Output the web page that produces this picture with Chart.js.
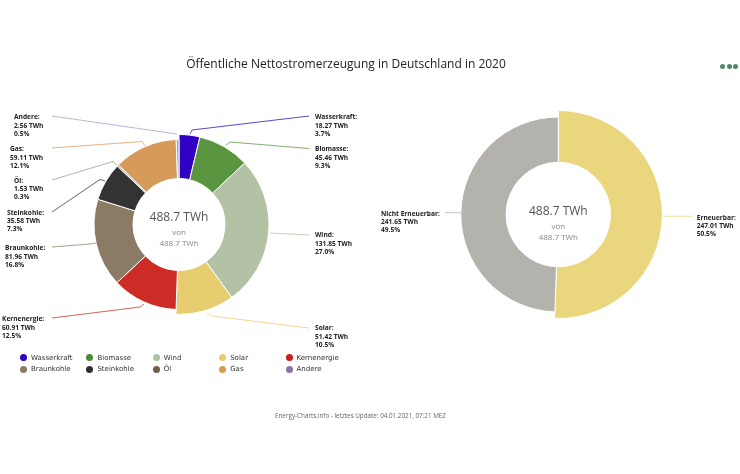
<!DOCTYPE html>
<html>
<head>
<meta charset="utf-8">
<script src="https://cdn.jsdelivr.net/npm/chart.js@4"></script>
<style>
  html, body { margin: 0; padding: 0; background: #fff; }
  #page { position: relative; width: 740px; height: 474px; overflow: hidden; }
  canvas { position: absolute; left: 0; top: 0; }
  #title { position: absolute; left: 0; width: 692px; top: 55px; text-align: center; font: 12px "Open Sans", sans-serif; color: #222; }
  #footer { position: absolute; left: 275px; top: 411px; font: 6.3px "Open Sans", sans-serif; color: #666; white-space: nowrap; }
  #menu { position: absolute; left: 720px; top: 64px; }
  #menu i { float: left; width: 5px; height: 5px; margin-right: 1.6px; border-radius: 50%; background: #4f8a6b; }
  #legend { position: absolute; left: 20px; top: 352px; display: grid; grid-template-columns: repeat(5, 66.4px); grid-auto-rows: 11.4px; font: 7px "DejaVu Sans", sans-serif; color: #333; }
  #legend div { display: flex; align-items: center; white-space: nowrap; }
  #legend b { width: 7px; height: 7px; border-radius: 50%; margin-right: 4px; }
</style>
</head>
<body>
<div id="page">
  <canvas id="mixChart" width="740" height="474"></canvas>
  <canvas id="shareChart" width="740" height="474"></canvas>
  <div id="title">Öffentliche Nettostromerzeugung in Deutschland in 2020</div>
  <div id="menu"><i></i><i></i><i></i></div>
  <div id="legend"></div>
  <div id="footer">Energy-Charts.info - letztes Update: 04.01.2021, 07:21 MEZ</div>
</div>
<script>
const sources = ['Wasserkraft', 'Biomasse', 'Wind', 'Solar', 'Kernenergie', 'Braunkohle', 'Steinkohle', 'Öl', 'Gas', 'Andere'];
const sourceTwh = [18.27, 45.46, 131.85, 51.42, 60.91, 81.96, 35.58, 1.53, 59.11, 2.56];
const sourcePct = ['3.7', '9.3', '27.0', '10.5', '12.5', '16.8', '7.3', '0.3', '12.1', '0.5'];
const sourceColors = ['#3000c4', '#5a963f', '#b3c2a5', '#e8cc70', '#cc2b26', '#8b7b64', '#333333', '#a09684', '#d69a5a', '#a99bc5'];
const legendColors = ['#2c00c4', '#4e8a34', '#adc2a2', '#e8cc70', '#c81e1e', '#8b7b64', '#2f2f2f', '#6f5f48', '#d9984f', '#8a70a8'];

const shareNames = ['Erneuerbar', 'Nicht Erneuerbar'];
const shareTwh = [247.01, 241.65];
const sharePct = ['50.5', '49.5'];
const shareColors = ['#ead67c', '#b3b2ac'];

const totalLabel = '488.7 TWh';

// leader lines and label spots, in page pixels
const sourceLines = [
  [[190, 134], [192, 130], [309, 116]],
  [[226, 145], [230, 142], [309, 148.5]],
  [[270, 233], [309, 235]],
  [[207, 313], [212, 316], [309, 328]],
  [[144, 304], [140, 307], [52, 318]],
  [[96, 243], [90, 244], [52, 247]],
  [[105, 181], [100, 179.5], [52, 212]],
  [[117, 165], [113, 161.5], [52, 180]],
  [[145, 146], [142, 141.5], [52, 148]],
  [[177, 134], [52, 116]]
];
const sourceSpots = [[315, 117.5], [315, 149.5], [315, 235.5], [315, 328.5], [2, 319.5], [5, 248.5], [7, 213], [14, 181], [10, 149.5], [14, 117.5]];
const shareLines = [
  [[663, 216.3], [691.7, 216.3]],
  [[462, 212.7], [445, 212.7]]
];
const shareSpots = [[696.7, 218], [381, 214]];

// slices stick out a little on the renewable side
const growRing = {
  id: 'growRing',
  afterDatasetsUpdate(chart, args, opts) {
    chart.getDatasetMeta(0).data.forEach((arc, i) => {
      arc.outerRadius += opts.extra[i];
    });
  }
};

const callouts = {
  id: 'callouts',
  afterDraw(chart, args, opts) {
    const c = chart.ctx;
    c.save();
    opts.lines.forEach((pts, i) => {
      c.beginPath();
      pts.forEach((p, k) => k ? c.lineTo(p[0], p[1]) : c.moveTo(p[0], p[1]));
      c.strokeStyle = opts.lineColors[i];
      c.globalAlpha = 0.75;
      c.lineWidth = 1;
      c.stroke();
    });
    c.globalAlpha = 1;
    c.fillStyle = '#222';
    c.font = 'bold 6.6px "Open Sans"';
    c.textBaseline = 'middle';
    opts.names.forEach((name, i) => {
      const [x, y] = opts.spots[i];
      c.fillText(name + ':', x, y);
      c.fillText(opts.twh[i].toFixed(2) + ' TWh', x, y + 8.2);
      c.fillText(opts.pct[i] + '%', x, y + 16.4);
    });
    // text in the hole
    const [cx, cy] = opts.center;
    c.textAlign = 'center';
    c.fillStyle = '#555';
    c.font = '12px "Open Sans"';
    c.fillText(totalLabel, cx, cy - 7);
    c.fillStyle = '#888';
    c.font = '8px "Open Sans"';
    c.fillText('von', cx, cy + 8);
    c.fillText(totalLabel, cx, cy + 19.5);
    c.restore();
  }
};

function makeDonut(id, names, values, colors, radius, cutout, padding, extra, co) {
  return new Chart(document.getElementById(id), {
    type: 'doughnut',
    data: {
      labels: names,
      datasets: [{ data: values, backgroundColor: colors, borderColor: '#fff', borderWidth: 1 }]
    },
    options: {
      responsive: false,
      animation: false,
      radius: radius,
      cutout: cutout,
      layout: { padding: padding },
      plugins: {
        legend: { display: false },
        tooltip: { enabled: false },
        growRing: { extra: extra },
        callouts: co
      }
    },
    plugins: [growRing, callouts]
  });
}

makeDonut('mixChart', sources, sourceTwh, sourceColors, 85, '54.1%',
  { left: 0, right: 382, top: 0, bottom: 25 },
  [5, 5, 5, 5, 0, 0, 0, 0, 0, 0],
  { names: sources, twh: sourceTwh, pct: sourcePct, lines: sourceLines, spots: sourceSpots, lineColors: sourceColors, center: [179, 224.5] });

makeDonut('shareChart', shareNames, shareTwh, shareColors, 97.5, '53.6%',
  { left: 376.6, right: 0, top: 0, bottom: 45 },
  [6.5, 0],
  { names: shareNames, twh: shareTwh, pct: sharePct, lines: shareLines, spots: shareSpots, lineColors: shareColors, center: [558.3, 218.7] });

const legendBox = document.getElementById('legend');
sources.forEach((name, i) => {
  const row = document.createElement('div');
  row.innerHTML = '<b style="background:' + legendColors[i] + '"></b>' + name;
  legendBox.appendChild(row);
});
</script>
</body>
</html>
